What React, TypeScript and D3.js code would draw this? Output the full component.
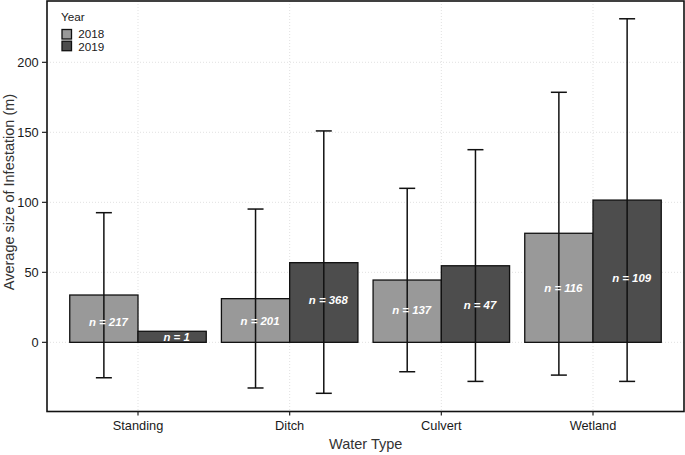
import React from "react";
import * as d3 from "d3";

const categories = ["Standing", "Ditch", "Culvert", "Wetland"];
const years = ["2018", "2019"];
const means2018 = [33.8, 31.2, 44.5, 77.9];
const means2019 = [7.9, 56.9, 54.7, 101.6];
const upper2018 = [92.6, 95.2, 110, 178.6];
const lower2018 = [-25.3, -32.6, -21, -23.4];
const upper2019: (number | null)[] = [null, 151, 137.6, 231.1];
const lower2019: (number | null)[] = [null, -36.4, -27.9, -27.9];
const n2018 = [217, 201, 137, 116];
const n2019 = [1, 368, 47, 109];
const labelY2018 = [14.7, 15.2, 23, 39];
const labelY2019 = [4, 30.2, 26.6, 46];
const yTicks = [0, 50, 100, 150, 200];
const yDomain = [-49.4, 243.8];
const fills = ["#999999", "#4d4d4d"];

const W = 685, H = 455;
const M = { left: 47, right: 1, top: 1, bottom: 43.5 };

export default function App() {
  // ggplot-like discrete expansion: 0.6 units each side
  const x0 = d3
    .scalePoint<string>()
    .domain(categories)
    .range([M.left, W - M.right])
    .padding(0.6);
  const step = x0.step();
  const xc = (i: number) => x0(categories[i]) as number;
  const x1 = d3.scaleBand().domain(years).range([-step * 0.45, step * 0.45]);
  const y = d3.scaleLinear().domain(yDomain).range([H - M.bottom, M.top]);
  const bw = x1.bandwidth();
  const capW = 16;
  const font = "Liberation Sans, Arial, sans-serif";

  const series = [
    { year: "2018", means: means2018, up: upper2018 as (number | null)[], lo: lower2018 as (number | null)[], n: n2018, ly: labelY2018 },
    { year: "2019", means: means2019, up: upper2019, lo: lower2019, n: n2019, ly: labelY2019 },
  ];

  return (
    <svg width={W} height={H} style={{ position: "absolute", left: 0, top: 0 }} fontFamily={font}>
      <rect x={0} y={0} width={W} height={H} fill="white" />
      {/* grid */}
      {yTicks.map((t) => (
        <line key={"gy" + t} x1={M.left} x2={W - M.right} y1={y(t)} y2={y(t)} stroke="#d9d9d9" strokeWidth={0.8} strokeDasharray="1,2" />
      ))}
      {categories.map((c, i) => (
        <line key={"gx" + c} x1={xc(i)} x2={xc(i)} y1={M.top} y2={H - M.bottom} stroke="#d9d9d9" strokeWidth={0.8} strokeDasharray="1,2" />
      ))}
      {/* bars */}
      {series.map((s, si) =>
        categories.map((c, i) => {
          const bx = xc(i) + (x1(s.year) as number);
          const v = s.means[i];
          return (
            <rect key={s.year + c} x={bx} y={y(v)} width={bw} height={y(0) - y(v)} fill={fills[si]} stroke="#111" strokeWidth={1.3} />
          );
        })
      )}
      {/* error bars */}
      {series.map((s) =>
        categories.map((c, i) => {
          const up = s.up[i], lo = s.lo[i];
          if (up == null || lo == null) return null;
          const cx = xc(i) + (x1(s.year) as number) + bw / 2;
          return (
            <g key={"e" + s.year + c} stroke="#111" strokeWidth={1.5}>
              <line x1={cx} x2={cx} y1={y(up)} y2={y(lo)} />
              <line x1={cx - capW / 2} x2={cx + capW / 2} y1={y(up)} y2={y(up)} />
              <line x1={cx - capW / 2} x2={cx + capW / 2} y1={y(lo)} y2={y(lo)} />
            </g>
          );
        })
      )}
      {/* n labels */}
      {series.map((s) =>
        categories.map((c, i) => {
          const cx = xc(i) + (x1(s.year) as number) + bw / 2 + 4.5;
          return (
            <text key={"n" + s.year + c} x={cx} y={y(s.ly[i])} dy="0.35em" textAnchor="middle" fill="white" fontSize={11.4} fontWeight="bold" fontStyle="italic">
              {`n = ${s.n[i]}`}
            </text>
          );
        })
      )}
      {/* panel border */}
      <rect x={M.left} y={M.top} width={W - M.right - M.left} height={H - M.bottom - M.top} fill="none" stroke="#111" strokeWidth={1.6} />
      {/* y axis ticks */}
      {yTicks.map((t) => (
        <g key={"yt" + t}>
          <line x1={M.left - 5} x2={M.left} y1={y(t)} y2={y(t)} stroke="#222" strokeWidth={1.2} />
          <text x={M.left - 8.3} y={y(t)} dy="0.35em" textAnchor="end" fontSize={12.8} fill="#1a1a1a">{t}</text>
        </g>
      ))}
      {/* x axis ticks */}
      {categories.map((c, i) => (
        <g key={"xt" + c}>
          <line x1={xc(i)} x2={xc(i)} y1={H - M.bottom} y2={H - M.bottom + 4} stroke="#222" strokeWidth={1.2} />
          <text x={xc(i)} y={426} dy="0.35em" textAnchor="middle" fontSize={12.8} fill="#1a1a1a">{c}</text>
        </g>
      ))}
      {/* axis titles */}
      <text x={365.7} y={444} dy="0.35em" textAnchor="middle" fontSize={14.5} fill="#333">Water Type</text>
      <text transform={`translate(8.5,192) rotate(-90)`} dy="0.35em" textAnchor="middle" fontSize={14.5} fill="#333">Average size of Infestation (m)</text>
      {/* legend */}
      <text x={61} y={17} dy="0.35em" fontSize={11.7} fill="#1a1a1a">Year</text>
      {years.map((yr, i) => (
        <g key={"lg" + yr}>
          <rect x={62} y={29.5 + i * 11.7} width={9.5} height={9.5} fill={fills[i]} stroke="#111" strokeWidth={1.3} />
          <text x={78.3} y={34 + i * 12.5} dy="0.35em" fontSize={11.7} fill="#1a1a1a">{yr}</text>
        </g>
      ))}
    </svg>
  );
}
